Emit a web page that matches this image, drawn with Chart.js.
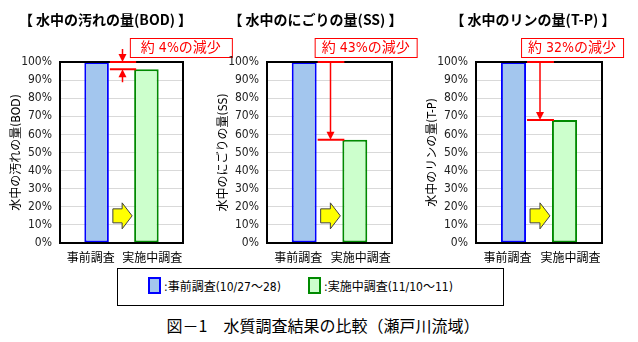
<!DOCTYPE html>
<html lang="ja">
<head>
<meta charset="utf-8">
<script src="https://cdn.jsdelivr.net/npm/chart.js@4/dist/chart.umd.min.js"></script>
<style>
  body { margin: 0; width: 638px; height: 342px; background: #fff; position: relative; overflow: hidden;
         font-family: 'Noto Sans CJK JP', sans-serif; color: #000; }
  canvas { position: absolute; top: 0; }
  #legend { position: absolute; left: 117px; top: 268px; width: 385px; height: 36px; border: 1px solid #000; }
  #legend .item { position: absolute; top: 8px; font-size: 12px; line-height: 18px; white-space: nowrap;
                  font-family: 'Liberation Sans Narrow', 'DejaVu Sans Condensed', 'Noto Sans CJK JP', sans-serif; }
  #legend .sw { display: inline-block; width: 9px; height: 13px; vertical-align: -3px; margin-right: 3px; }
  #caption { position: absolute; left: 0; top: 313px; width: 646px; text-align: center; font-size: 16px;
             font-weight: 400; white-space: nowrap; }
</style>
</head>
<body>
<canvas id="c0" width="240" height="268" style="left:0px"></canvas>
<canvas id="c1" width="220" height="268" style="left:207px"></canvas>
<canvas id="c2" width="222" height="268" style="left:416px"></canvas>
<div id="legend"></div>
<div id="caption">図－1　水質調査結果の比較（瀬戸川流域）</div>
<script>
'use strict';

const categories = ['事前調査', '実施中調査'];
const itemNames = ['水中の汚れの量(BOD)', '水中のにごりの量(SS)', '水中のリンの量(T-P)'];
const beforeValues = [100, 100, 100];
const afterValues = [96, 57, 68];
const periods = ['(10/27～28)', '(11/10～11)'];

const blueFill = '#a3c6ee', blueLine = '#0000ff';
const greenFill = '#ccffcc', greenLine = '#008a00';
const narrow = "'Liberation Sans Narrow', 'DejaVu Sans Condensed', 'Noto Sans CJK JP', sans-serif";

// per-panel placement of the canvas and its callout
const panels = [
  {padRight: 57, boxShift: 21, titleShift: -16},
  {padRight: 35, boxShift: -2, titleShift: -14},
  {padRight: 36, boxShift: -5, titleShift: -6},
];

function arrow(ctx, x, y0, y1) {
  const dir = Math.sign(y1 - y0);
  ctx.lineWidth = 1.5;
  ctx.beginPath();
  ctx.moveTo(x, y0);
  ctx.lineTo(x, y1 - dir * 6);
  ctx.stroke();
  ctx.beginPath();
  ctx.moveTo(x, y1);
  ctx.lineTo(x - 4, y1 - dir * 8);
  ctx.lineTo(x + 4, y1 - dir * 8);
  ctx.closePath();
  ctx.fill();
}

// frame, title, reduction markers and the yellow arrow
const notes = {
  id: 'notes',
  afterDraw(chart, args, opts) {
    const {ctx, chartArea: area, scales: {y}} = chart;
    const after = chart.getDatasetMeta(0).data[1];
    const before = chart.getDatasetMeta(1).data[0];
    const left = before.x + before.width / 2;
    const right = after.x - after.width / 2;
    const yHigh = before.y;
    const yLow = after.y;
    ctx.save();

    ctx.strokeStyle = '#000';
    ctx.lineWidth = 2;
    ctx.strokeRect(Math.round(area.left), Math.round(area.top),
      Math.round(area.right - area.left), Math.round(area.bottom - area.top));

    ctx.fillStyle = '#000';
    ctx.font = "bold 14px 'Noto Sans CJK JP', sans-serif";
    ctx.textAlign = 'center';
    ctx.textBaseline = 'middle';
    ctx.fillText('【 ' + opts.name + ' 】', (area.left + area.right) / 2 + opts.titleShift, 20);

    // yellow block arrow between the bars
    const ay = y.getPixelForValue(15);
    const ax0 = left + 4, ax1 = right - 2, neck = ax1 - 10;
    ctx.beginPath();
    ctx.moveTo(ax0, ay - 7);
    ctx.lineTo(neck, ay - 7);
    ctx.lineTo(neck, ay - 13);
    ctx.lineTo(ax1, ay);
    ctx.lineTo(neck, ay + 13);
    ctx.lineTo(neck, ay + 7);
    ctx.lineTo(ax0, ay + 7);
    ctx.closePath();
    ctx.fillStyle = '#ffff00';
    ctx.fill();
    ctx.strokeStyle = '#404040';
    ctx.lineWidth = 1;
    ctx.stroke();

    // red level lines and arrows
    ctx.strokeStyle = ctx.fillStyle = '#ff0000';
    ctx.lineWidth = 2;
    ctx.beginPath();
    ctx.moveTo(left + 1, yHigh);
    ctx.lineTo(right + 2, yHigh);
    ctx.moveTo(left + 1, yLow);
    ctx.lineTo(right + 2, yLow);
    ctx.stroke();
    const mx = (left + right) / 2 + 1;
    if (yLow - yHigh > 20) {
      arrow(ctx, mx, yHigh, yLow);
    } else {
      arrow(ctx, mx, yHigh - 13, yHigh);
      arrow(ctx, mx, yLow + 13, yLow);
    }

    // callout box
    const bx = left + opts.boxShift, by = area.top - 24;
    ctx.fillStyle = '#fff';
    ctx.fillRect(bx, by, 102, 19);
    ctx.strokeStyle = '#ff0000';
    ctx.lineWidth = 1;
    ctx.strokeRect(bx + 0.5, by + 0.5, 102, 19);
    ctx.fillStyle = '#ff0000';
    ctx.font = '14px ' + narrow;
    ctx.fillText(opts.label, bx + 51, by + 10.5);
    ctx.restore();
  }
};

itemNames.forEach((name, i) => {
  const before = beforeValues[i];
  const after = afterValues[i];
  new Chart(document.querySelector('#c' + i), {
    type: 'bar',
    data: {
      labels: categories,
      // later survey listed first so both bars lean toward the middle
      datasets: [
        {
          label: categories[1],
          data: [null, after],
          backgroundColor: greenFill,
          borderColor: greenLine,
          borderWidth: 2,
          borderSkipped: false,
        },
        {
          label: categories[0],
          data: [before, null],
          backgroundColor: blueFill,
          borderColor: blueLine,
          borderWidth: 2,
          borderSkipped: false,
        },
      ],
    },
    options: {
      responsive: false,
      animation: false,
      categoryPercentage: 0.38,
      barPercentage: 2.1,
      layout: {padding: {left: 8, right: panels[i].padRight, top: 62, bottom: 0}},
      plugins: {
        legend: {display: false},
        tooltip: {enabled: false},
        notes: {
          name: name,
          label: '約 ' + (before - after) + '%の減少',
          boxShift: panels[i].boxShift,
          titleShift: panels[i].titleShift,
        },
      },
      scales: {
        x: {
          grid: {display: false, drawTicks: false},
          border: {display: false},
          ticks: {
            color: '#000',
            padding: 7,
            autoSkip: false,
            maxRotation: 0,
            minRotation: 0,
            font: {size: 12, family: "'Noto Sans CJK JP', sans-serif"},
          },
          afterFit: (scale) => { scale.height = 25; },
        },
        y: {
          min: 0,
          max: 100,
          ticks: {
            stepSize: 10,
            color: '#222',
            padding: 8,
            font: {size: 12, family: narrow},
            callback: (v) => v + '%',
          },
          grid: {color: '#d9d9d9', drawTicks: false},
          border: {display: false},
          title: {
            display: true,
            text: name,
            color: '#000',
            padding: {top: 2, bottom: 0},
            font: {size: 12, family: narrow},
          },
          afterFit: (scale) => { scale.width = 52; },
        },
      },
    },
    plugins: [notes],
  });
});

// shared legend below the panels
const legend = document.querySelector('#legend');
[[blueFill, blueLine, 30], [greenFill, greenLine, 190]].forEach(([fill, line, x], k) => {
  const item = document.createElement('span');
  item.className = 'item';
  item.style.left = x + 'px';
  item.innerHTML = '<span class="sw" style="background:' + fill + ';border:2px solid ' + line + '"></span>:' +
    categories[k] + periods[k];
  legend.appendChild(item);
});
</script>
</body>
</html>
